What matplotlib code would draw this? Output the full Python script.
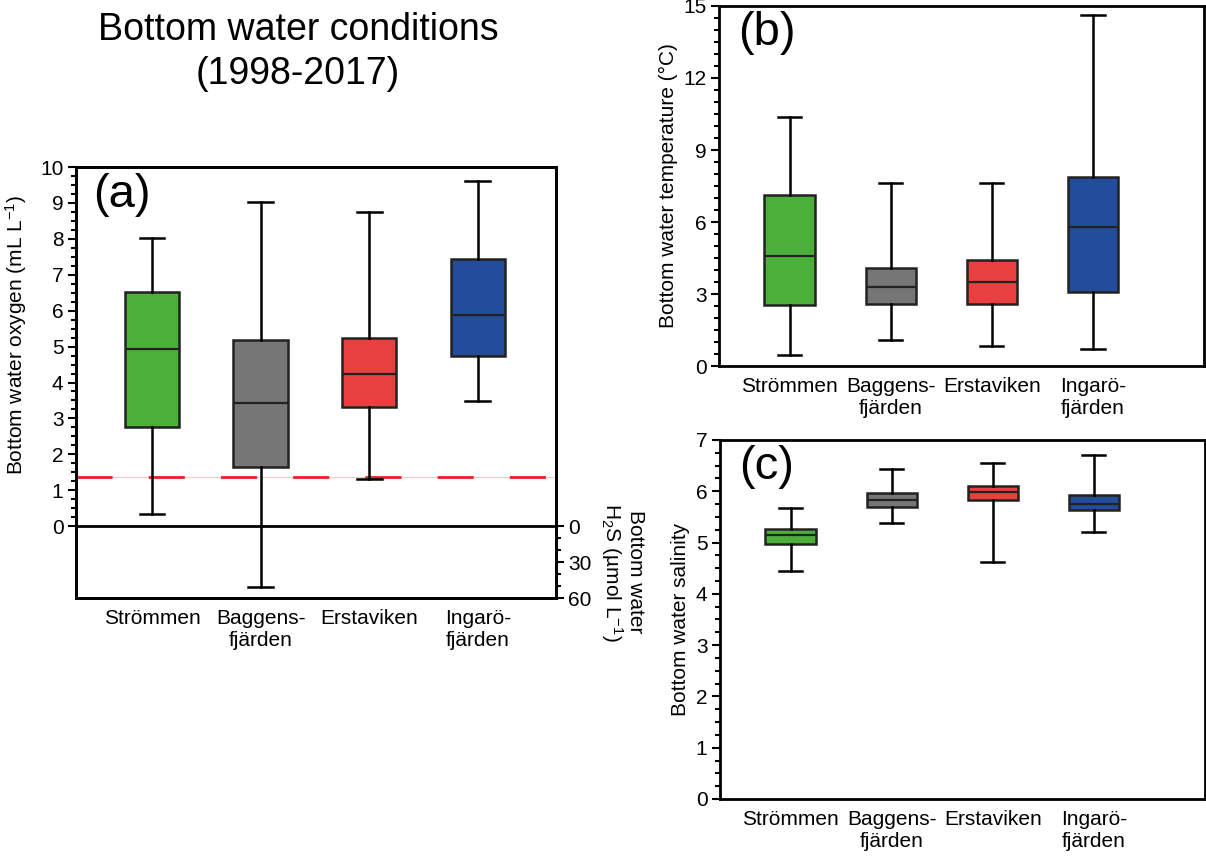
import numpy as np
import matplotlib
matplotlib.use('Agg')
import matplotlib.pyplot as plt
from matplotlib.ticker import MultipleLocator, FixedLocator

plt.rcParams['font.family'] = ['Liberation Sans', 'DejaVu Sans']
plt.rcParams['mathtext.fontset'] = 'custom'
plt.rcParams['mathtext.rm'] = 'Liberation Sans'
plt.rcParams['mathtext.it'] = 'Liberation Sans:italic'
plt.rcParams['mathtext.bf'] = 'Liberation Sans:bold'

# data: whisker low, Q1, median, Q3, whisker high
sites = ['Strömmen', 'Baggens-\nfjärden', 'Erstaviken', 'Ingarö-\nfjärden']
colors = ['#4caf3a', '#767676', '#e83f3f', '#234d9b']

oxy_lo = [0.35, -1.69, 1.31, 3.49]
oxy_q1 = [2.77, 1.65, 3.31, 4.75]
oxy_med = [4.92, 3.44, 4.25, 5.88]
oxy_q3 = [6.52, 5.18, 5.23, 7.43]
oxy_hi = [8.02, 9.03, 8.76, 9.61]
hypoxia = 1.38

temp_lo = [0.47, 1.09, 0.83, 0.70]
temp_q1 = [2.53, 2.60, 2.60, 3.10]
temp_med = [4.59, 3.31, 3.48, 5.80]
temp_q3 = [7.12, 4.10, 4.42, 7.89]
temp_hi = [10.39, 7.64, 7.64, 14.62]

sal_lo = [4.45, 5.39, 4.63, 5.21]
sal_q1 = [4.97, 5.70, 5.83, 5.64]
sal_med = [5.15, 5.83, 5.98, 5.76]
sal_q3 = [5.27, 5.97, 6.10, 5.93]
sal_hi = [5.68, 6.43, 6.56, 6.71]

h2s_ticks = [0, 30, 60]


def stats(lo, q1, med, q3, hi):
    return [dict(whislo=a, q1=b, med=c, q3=d, whishi=e, fliers=[])
            for a, b, c, d, e in zip(lo, q1, med, q3, hi)]


def draw_boxes(ax, st):
    pos = np.arange(1, len(st) + 1)
    bp = ax.bxp(st, positions=pos, widths=0.5, capwidths=0.23,
                patch_artist=True, showfliers=False,
                boxprops=dict(linewidth=1.8, edgecolor='#222222'),
                whiskerprops=dict(linewidth=1.8, color='black'),
                capprops=dict(linewidth=1.8, color='black'),
                medianprops=dict(linewidth=1.6, color='#222222'))
    for patch, c in zip(bp['boxes'], colors):
        patch.set_facecolor(c)
    for m in bp['medians']:
        m.set_zorder(5)
    ax.set_xticks(pos, sites)
    ax.tick_params(axis='x', length=0, pad=8, labelsize=15)
    ax.tick_params(axis='y', which='both', direction='out', width=1.5, labelsize=15, pad=3)
    ax.tick_params(axis='y', which='major', length=6)
    ax.tick_params(axis='y', which='minor', length=3.5)
    for s in ax.spines.values():
        s.set_linewidth(2)
    return bp


fig = plt.figure(figsize=(12.06, 8.56), dpi=100)

# panel (a)
ax = fig.add_axes([0.063, 0.3014, 0.398, 0.5035])
ax.axhline(0, color='black', lw=2, zorder=1)
ax.axhline(hypoxia, color='#f8c6c6', lw=0.8, zorder=1)
ax.axhline(hypoxia, color='#e8202a', lw=2, dashes=(13, 13), zorder=1)
draw_boxes(ax, stats(oxy_lo, oxy_q1, oxy_med, oxy_q3, oxy_hi))
ax.set_xlim(0.3, 4.72)
ax.set_ylim(-2, 10)
ax.yaxis.set_major_locator(FixedLocator(range(0, 11)))
ax.yaxis.set_minor_locator(FixedLocator(np.arange(0, 10.01, 0.25)))
ax.set_ylabel('Bottom water oxygen (mL L$^{-1}$)', fontsize=15)
ax.yaxis.set_label_coords(-0.098, 0.61)
ax.text(0.035, 0.985, '(a)', transform=ax.transAxes, fontsize=34, va='top', ha='left')

tw = ax.twinx()
tw.set_ylim(60, -300)
tw.yaxis.set_major_locator(FixedLocator(h2s_ticks))
tw.yaxis.set_minor_locator(FixedLocator([10, 20, 40, 50]))
tw.tick_params(axis='y', which='both', direction='out', width=1.5, labelsize=15, pad=3)
tw.tick_params(axis='y', which='major', length=6)
tw.tick_params(axis='y', which='minor', length=3.5)
for s in tw.spines.values():
    s.set_linewidth(2)
fig.text(622 / 1206, 1 - 572 / 856, 'Bottom water\nH$_2$S (µmol L$^{-1}$)',
         rotation=-90, ha='center', va='center', fontsize=15, linespacing=1.05)

fig.text(298 / 1206, 1 - 52 / 856, 'Bottom water conditions\n(1998-2017)',
         ha='center', va='center', fontsize=27, linespacing=1.25)

# panel (b)
bx = fig.add_axes([0.5962, 0.5724, 0.4022, 0.4206])
draw_boxes(bx, stats(temp_lo, temp_q1, temp_med, temp_q3, temp_hi))
bx.set_xlim(0.3, 5.1)
bx.set_ylim(0, 15)
bx.yaxis.set_major_locator(MultipleLocator(3))
bx.yaxis.set_minor_locator(MultipleLocator(0.5))
bx.set_ylabel('Bottom water temperature (°C)', fontsize=15)
bx.text(0.04, 0.985, '(b)', transform=bx.transAxes, fontsize=34, va='top', ha='left')

# panel (c)
cx = fig.add_axes([0.597, 0.0666, 0.4022, 0.4194])
draw_boxes(cx, stats(sal_lo, sal_q1, sal_med, sal_q3, sal_hi))
cx.set_xlim(0.3, 5.1)
cx.set_ylim(0, 7)
cx.yaxis.set_major_locator(MultipleLocator(1))
cx.yaxis.set_minor_locator(MultipleLocator(0.25))
cx.set_ylabel('Bottom water salinity', fontsize=15)
cx.text(0.04, 0.985, '(c)', transform=cx.transAxes, fontsize=34, va='top', ha='left')

fig.savefig('out.png', dpi=100)
